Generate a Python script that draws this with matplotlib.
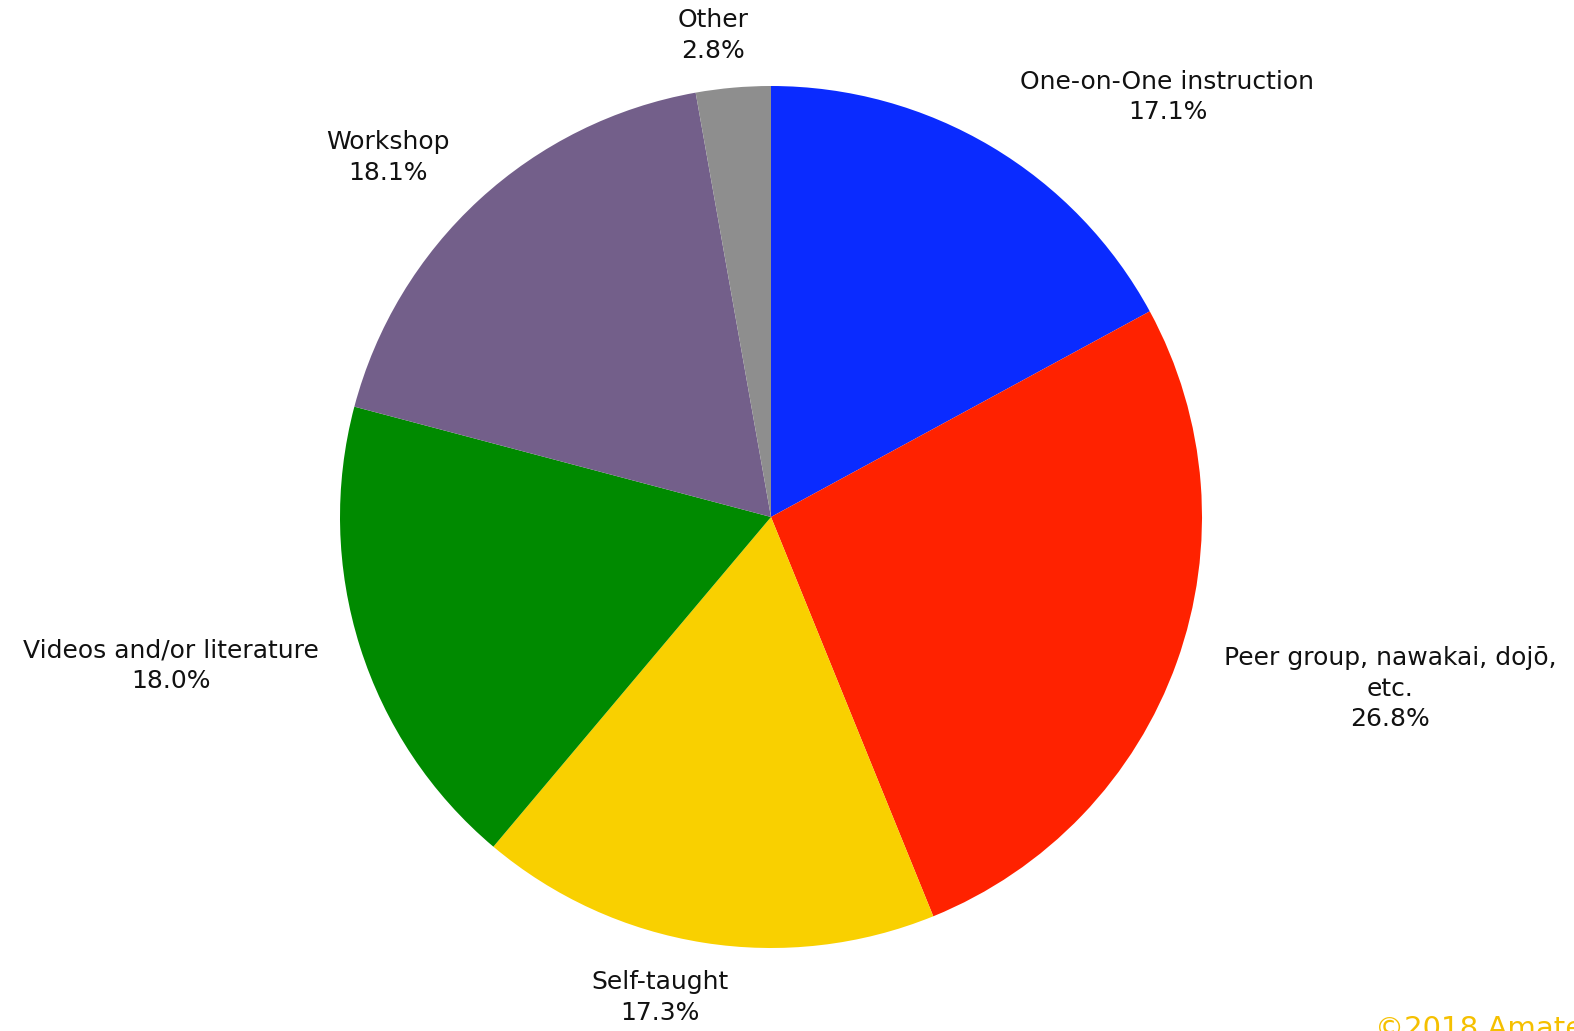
import numpy as np
import matplotlib.pyplot as plt

# data
categories = ["One-on-One instruction", "Peer group, nawakai, dojō,\netc.",
              "Self-taught", "Videos and/or literature", "Workshop", "Other"]
shares = [17.1, 26.8, 17.3, 18.0, 18.1, 2.8]
colors = ["#0A2BFF", "#FF2200", "#F9D000", "#008A00", "#735F8A", "#8E8E8E"]

# label placement: (distance, angle offset from wedge middle, degrees)
label_pos = [(1.34, -12.6), (1.49, 4.2), (1.145, -4.0), (1.435, -3.6), (1.22, 4.2), (1.125, 1.8)]

W, H = 1574, 1031
fig = plt.figure(figsize=(W / 100, H / 100), dpi=100)
ax = fig.add_axes([0, 0, 1, 1])

wedges, _ = ax.pie(shares, colors=colors, startangle=90, counterclock=False,
                   wedgeprops=dict(linewidth=0))

for w, name, val, (d, off) in zip(wedges, categories, shares, label_pos):
    mid = np.deg2rad((w.theta1 + w.theta2) / 2 + off)
    ax.text(d * np.cos(mid), d * np.sin(mid), f"{name}\n{val:.1f}%",
            ha="center", va="center", fontsize=18, linespacing=1.36,
            color="#111111", family="DejaVu Sans")

# map data units to pixels: center at (771, 517) px, radius 431 px
r_px, cx, cy = 431, 771, 517
ax.set_aspect("auto")
ax.set_xlim(-cx / r_px, (W - cx) / r_px)
ax.set_ylim(-(H - cy) / r_px, cy / r_px)
ax.axis("off")

fig.text(1375 / W, 2 / H, "©2018 Amateur Kumihimo", color="#F5C000",
         fontsize=21, ha="left", va="center")

fig.savefig("out.png", dpi=100)
